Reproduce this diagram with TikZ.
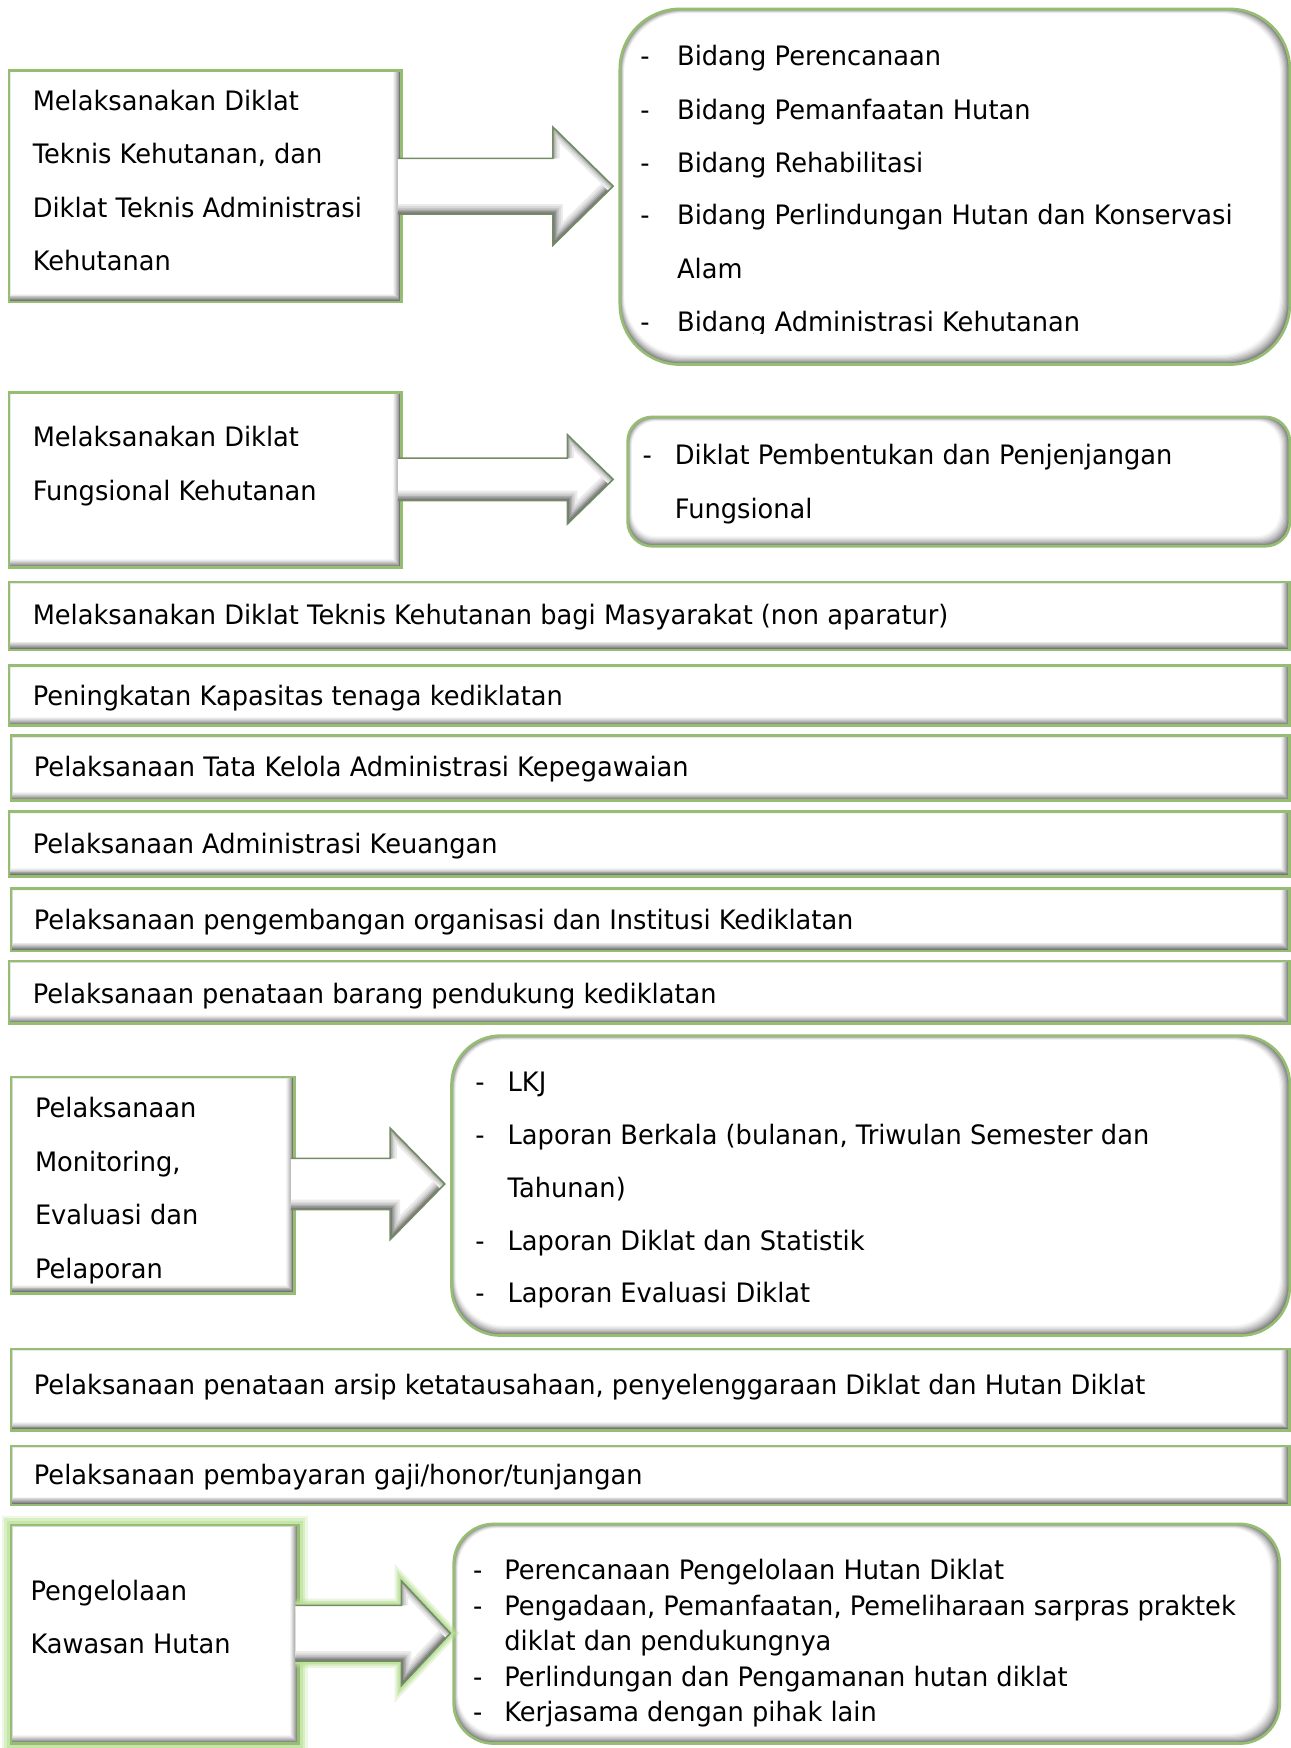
\documentclass[tikz,border=0pt]{standalone}
\usepackage{fontspec}
\setmainfont[FakeStretch=0.96]{DejaVu Sans}
\usetikzlibrary{calc,fit}
\definecolor{boxgreen}{RGB}{150,190,115}
\definecolor{glowgreen}{RGB}{185,225,150}
\definecolor{arrowedge}{RGB}{115,140,100}

\newcommand\myarrowclosed[6]{(#1,#4-#5) -- (#2,#4-#5) -- (#2,#4-#6) -- (#3,#4) -- (#2,#4+#6) -- (#2,#4+#5) -- (#1,#4+#5) -- cycle}
\newcommand\myarrowopen[6]{(#1,#4-#5) -- (#2,#4-#5) -- (#2,#4-#6) -- (#3,#4) -- (#2,#4+#6) -- (#2,#4+#5) -- (#1,#4+#5)}
\newcommand\myarrowlower[6]{(#1-20,#4+#5) -- (#2,#4+#5) -- (#2,#4+#6) -- (#3,#4)}
\newcommand\myarrowupper[6]{(#3,#4) -- (#2,#4-#6) -- (#2,#4-#5)}
\newcommand\drawblockarrow[6]{%
  \fill[white, path picture={%
    \foreach \w/\c in {9/8,7/14,5.5/22,4/32,2.8/42,1.6/52}
      \draw[black!\c, line width=\w pt, line join=miter] \myarrowlower{#1}{#2}{#3}{#4}{#5}{#6};
    \foreach \w/\c in {6/8,4/16,2.4/26,1.2/36}
      \draw[black!\c, line width=\w pt, line join=miter] \myarrowupper{#1}{#2}{#3}{#4}{#5}{#6};
  }] \myarrowclosed{#1}{#2}{#3}{#4}{#5}{#6};
  \draw[arrowedge, line width=0.7pt, line join=miter] \myarrowopen{#1}{#2}{#3}{#4}{#5}{#6};
}

\tikzset{
  bevbox/.style={draw=boxgreen, line width=1.2pt, fill=white, inner sep=0pt,
    path picture={\foreach \k/\c in {0/62,1/54,2/45,3/37,4/29,5/22,6/15,7/9,8/4,9/0}
      \fill[black!\c] ($(path picture bounding box.north west)+(\k*0.1pt,-\k*0.1pt)$) rectangle ($(path picture bounding box.south east)+(-\k*0.42pt,\k*0.42pt)$);}},
  rbevbox/.style={draw=boxgreen, line width=1.2pt, fill=white, inner sep=0pt, rounded corners=#1,
    path picture={\foreach \k/\c in {0/55,1/47,2/39,3/31,4/24,5/18,6/12,7/7,8/3,9/0}
      \fill[black!\c, rounded corners=#1] ($(path picture bounding box.north west)+(\k*0.22pt,-\k*0.22pt)$) rectangle ($(path picture bounding box.south east)+(-\k*0.5pt,\k*0.5pt)$);}},
  txt/.style={anchor=base west, inner sep=0pt, yshift=-4.4pt, font=\fontsize{12}{14}\selectfont},
}

\begin{document}
\begin{tikzpicture}[x=0.5pt,y=-0.5pt]
\useasboundingbox[fill=white] (0,0) rectangle (1158,1568);

% ---------- block 1 ----------
\node[bevbox, fit={(8,63)(360,271)}] (b1) {};
\node[rbevbox=27pt, fit={(556,8)(1157,327)}] (r1) {};
\drawblockarrow{357}{496}{550}{167}{25}{53}
\foreach \t [count=\i] in {Melaksanakan Diklat, {Teknis Kehutanan, dan}, Diklat Teknis Administrasi, Kehutanan}
  \node[txt] (b1t\i) at (29,42+48*\i) {\t};
\foreach \y/\t [count=\i] in {50/Bidang Perencanaan, 98/Bidang Pemanfaatan Hutan, 146/Bidang Rehabilitasi, 193/Bidang Perlindungan Hutan dan Konservasi, 241/Alam}
  \node[txt] (r1t\i) at (607,\y) {\t};
\foreach \y [count=\i] in {50,98,146,193,289}
  \node[txt] (r1d\i) at (574,\y) {-};
\begin{scope}
  \clip (556,250) rectangle (1158,299);
  \node[txt] (r1t6) at (607,289) {Bidang Administrasi Kehutanan};
\end{scope}

% ---------- block 2 ----------
\node[bevbox, fit={(8,352)(360,509)}] (b2) {};
\node[rbevbox=11pt, fit={(563,374)(1157,490)}] (r2) {};
\drawblockarrow{357}{509}{550}{430}{19}{40}
\node[txt] (b2t1) at (29,392) {Melaksanakan Diklat};
\node[txt] (b2t2) at (29,440) {Fungsional Kehutanan};
\node[txt] (r2d1) at (576,408) {-};
\node[txt] (r2t1) at (605,408) {Diklat Pembentukan dan Penjenjangan};
\node[txt] (r2t2) at (605,456) {Fungsional};

% ---------- bars ----------
\node[bevbox, fit={(8,522)(1157,583)}] (barA) {};
\node[txt] (barAt) at (29,551) {Melaksanakan Diklat Teknis Kehutanan bagi Masyarakat (non aparatur)};
\node[bevbox, fit={(8,597)(1157,651)}] (barB) {};
\node[txt] (barBt) at (29,624) {Peningkatan Kapasitas tenaga kediklatan};
\node[bevbox, fit={(10,660)(1157,718)}] (barC) {};
\node[txt] (barCt) at (30,688) {Pelaksanaan Tata Kelola Administrasi Kepegawaian};
\node[bevbox, fit={(8,728)(1157,786)}] (barD) {};
\node[txt] (barDt) at (29,757) {Pelaksanaan Administrasi Keuangan};
\node[bevbox, fit={(10,797)(1157,853)}] (barE) {};
\node[txt] (barEt) at (30,825) {Pelaksanaan pengembangan organisasi dan Institusi Kediklatan};
\node[bevbox, fit={(8,862)(1157,918)}] (barF) {};
\node[txt] (barFt) at (29,891) {Pelaksanaan penataan barang pendukung kediklatan};

% ---------- block 3 ----------
\node[bevbox, fit={(10,966)(264,1160)}] (b3) {};
\node[rbevbox=22pt, fit={(405,929)(1157,1198)}] (r3) {};
\drawblockarrow{261}{350}{399}{1062}{23}{50}
\foreach \t [count=\i] in {Pelaksanaan, {Monitoring,}, Evaluasi dan, Pelaporan}
  \node[txt] (b3t\i) at (31,946+48*\i) {\t};
\node[txt] (r3t1) at (455,970) {LKJ};
\node[txt] (r3t2) at (455,1018) {Laporan Berkala (bulanan, Triwulan Semester dan};
\node[txt] (r3t3) at (455,1065) {Tahunan)};
\node[txt] (r3t4) at (455,1113) {Laporan Diklat dan Statistik};
\node[txt] (r3t5) at (455,1160) {Laporan Evaluasi Diklat};
\foreach \y [count=\i] in {970,1018,1113,1160}
  \node[txt] (r3d\i) at (426,\y) {-};

% ---------- bars ----------
\node[bevbox, fit={(10,1210)(1157,1283)}] (barG) {};
\node[txt] (barGt) at (30,1242) {Pelaksanaan penataan arsip ketatausahaan, penyelenggaraan Diklat dan Hutan Diklat};
\node[bevbox, fit={(10,1297)(1157,1350)}] (barH) {};
\node[txt] (barHt) at (30,1323) {Pelaksanaan pembayaran gaji/honor/tunjangan};

% ---------- block 4 ----------
\foreach \w/\o in {8/0.25,6/0.4,4/0.6}
  \draw[glowgreen, line width=\w pt, opacity=\o] (10,1368) rectangle (268,1564);
\node[bevbox, fit={(10,1368)(268,1564)}] (b4) {};
\node[rbevbox=18pt, fit={(407,1367)(1148,1564)}] (r4) {};
\foreach \w/\o in {6/0.3,4/0.5,2.5/0.7}
  \draw[glowgreen, line width=\w pt, opacity=\o, line join=miter] \myarrowopen{265}{360}{404}{1465}{25}{47};
\drawblockarrow{265}{360}{404}{1465}{25}{47}
\node[txt] (b4t1) at (27,1427) {Pengelolaan};
\node[txt] (b4t2) at (27,1474) {Kawasan Hutan};
\node[txt] (r4t1) at (452,1408) {Perencanaan Pengelolaan Hutan Diklat};
\node[txt] (r4t2) at (452,1440) {Pengadaan, Pemanfaatan, Pemeliharaan sarpras praktek};
\node[txt] (r4t3) at (452,1472) {diklat dan pendukungnya};
\node[txt] (r4t4) at (452,1504) {Perlindungan dan Pengamanan hutan diklat};
\node[txt] (r4t5) at (452,1535) {Kerjasama dengan pihak lain};
\foreach \y [count=\i] in {1408,1440,1504,1535}
  \node[txt] (r4d\i) at (424,\y) {-};
\end{tikzpicture}
\end{document}
